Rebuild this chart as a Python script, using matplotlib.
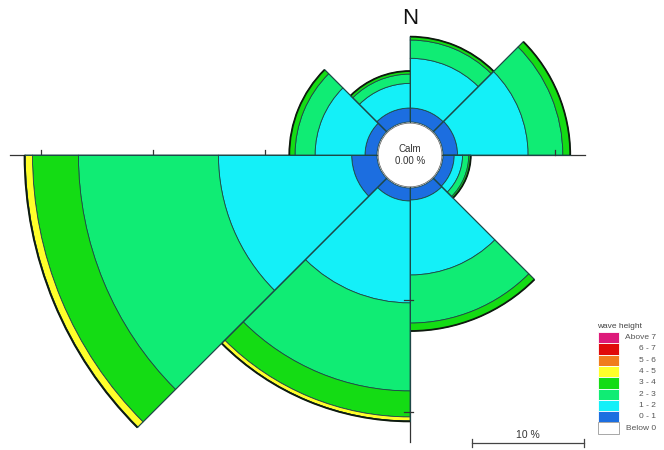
import numpy as np
import matplotlib
matplotlib.use("Agg")
import matplotlib.pyplot as plt
from matplotlib.patches import Wedge, Circle, Rectangle, Arc

plt.rcParams['font.family'] = ['Liberation Sans', 'DejaVu Sans']

# Direction sectors, clockwise from north (start bearing of each 45-degree sector)
sector_start = [0, 45, 90, 135, 180, 225, 270, 315]
sector_width = 45

# Frequency (%) of each wave-height class per sector
h_0_1 = [1.25, 1.30, 1.00, 1.07, 1.16, 2.26, 1.07, 1.25]
h_1_2 = [4.44, 6.30, 0.75, 6.70, 9.10, 11.90, 4.46, 2.20]
h_2_3 = [1.63, 3.10, 0.55, 4.29, 7.86, 12.50, 1.79, 0.83]
h_3_4 = [0.30, 0.66, 0.18, 0.71, 2.32, 4.10, 0.51, 0.27]
h_4_5 = [0.00, 0.00, 0.00, 0.00, 0.36, 0.65, 0.00, 0.00]
h_5_6 = [0.00, 0.00, 0.00, 0.00, 0.04, 0.06, 0.00, 0.00]
h_6_7 = [0.0] * 8
h_above_7 = [0.0] * 8

calm_pct = 0.00

classes = ["Above 7", "6 - 7", "5 - 6", "4 - 5", "3 - 4", "2 - 3", "1 - 2", "0 - 1", "Below 0"]
class_colors = ["#dd1a7a", "#e00a0a", "#f07c1e", "#ffff2a", "#14dc14", "#10ec74",
                "#14f0f8", "#1c6ee0", "#ffffff"]

# stacking order from the centre outwards
stack = [h_0_1, h_1_2, h_2_3, h_3_4, h_4_5, h_5_6, h_6_7, h_above_7]
stack_colors = ["#1c6ee0", "#14f0f8", "#10ec74", "#14dc14", "#ffff2a",
                "#f07c1e", "#e00a0a", "#dd1a7a"]

axis_ticks_left = [10, 20, 30]
axis_ticks_right = [10]
axis_ticks_down = [10, 20]
scale_bar_pct = 10

# layout: pixels per percent and centre position
W, H = 664, 450
PX = 11.2
CX, CY = 410, 155
CALM_R = 33 / PX

fig = plt.figure(figsize=(W / 100, H / 100), dpi=100)
ax = fig.add_axes([0, 0, 1, 1])
ax.set_xlim(-CX / PX, (W - CX) / PX)
ax.set_ylim(-(H - CY) / PX, CY / PX)
ax.set_aspect('equal')
ax.axis('off')

edge = "#1d4848"

# axis lines with ticks
ax.plot([-(CX - 10) / PX, (585 - CX) / PX], [0, 0], color="#333333", lw=0.9, zorder=1)
ax.plot([0, 0], [0, -(442 - CY) / PX], color="#333333", lw=0.9, zorder=1)
for t in axis_ticks_left:
    r = CALM_R + t
    ax.plot([-r, -r], [0, 0.45], color="#333333", lw=0.9, zorder=1)
for t in axis_ticks_right:
    r = CALM_R + t
    ax.plot([r, r], [0, 0.45], color="#333333", lw=0.9, zorder=5)
for t in axis_ticks_down:
    r = CALM_R + t
    ax.plot([-0.5, 0.3], [-r, -r], color="#333333", lw=0.9, zorder=5)

# wedges
for i, b in enumerate(sector_start):
    t1 = 90 - b
    t0 = 90 - (b + sector_width)
    inner = CALM_R
    for vals, col in zip(stack, stack_colors):
        v = vals[i]
        if v <= 0:
            continue
        outer = inner + v
        ax.add_patch(Wedge((0, 0), outer, t0, t1, width=v, facecolor=col,
                           edgecolor=edge, lw=0.6, zorder=2))
        inner = outer
    ax.add_patch(Arc((0, 0), 2 * inner, 2 * inner, theta1=t0, theta2=t1,
                     color="#0e1a0e", lw=1.3, zorder=3))
    # radial edges of the sector
    for a in (t0, t1):
        ar = np.deg2rad(a)
        ax.plot([CALM_R * np.cos(ar), inner * np.cos(ar)],
                [CALM_R * np.sin(ar), inner * np.sin(ar)],
                color=edge, lw=0.7, zorder=3)

# calm circle
ax.add_patch(Circle((0, 0), CALM_R - 0.1, facecolor="white", edgecolor="#555555",
                    lw=0.5, zorder=4))
ax.text(0, 0, f"Calm\n{calm_pct:.2f} %", ha="center", va="center", fontsize=7,
        color="#333333", linespacing=1.15, zorder=5)

# north label
ax.text(0, (CY - 18) / PX, "N", ha="center", va="center", fontsize=16, color="#111111")

# scale bar
sx0 = (472 - CX) / PX
sy = -(443 - CY) / PX
ax.plot([sx0, sx0 + scale_bar_pct], [sy, sy], color="#444444", lw=0.9)
for xx in (sx0, sx0 + scale_bar_pct):
    ax.plot([xx, xx], [sy - 0.35, sy + 0.35], color="#444444", lw=0.9)
ax.text(sx0 + scale_bar_pct / 2, sy + 0.25, f"{scale_bar_pct} %", ha="center",
        va="bottom", fontsize=7.5, color="#333333")

# legend in pixel coordinates
lg = fig.add_axes([0, 0, 1, 1])
lg.set_xlim(0, W)
lg.set_ylim(H, 0)
lg.axis('off')
lg.patch.set_alpha(0)
lg.text(597, 326, "wave height", ha="left", va="center", fontsize=6, color="#444444")
bh = 11.3
for k, (lab, col) in enumerate(zip(classes, class_colors)):
    y0 = 332 + k * bh
    ec = "#999999" if col == "#ffffff" else "white"
    lg.add_patch(Rectangle((598, y0), 21, bh, facecolor=col, edgecolor=ec, lw=0.6))
    lg.text(656, y0 + bh / 2, lab, ha="right", va="center", fontsize=6, color="#555555")

fig.savefig("out.png", dpi=100)
